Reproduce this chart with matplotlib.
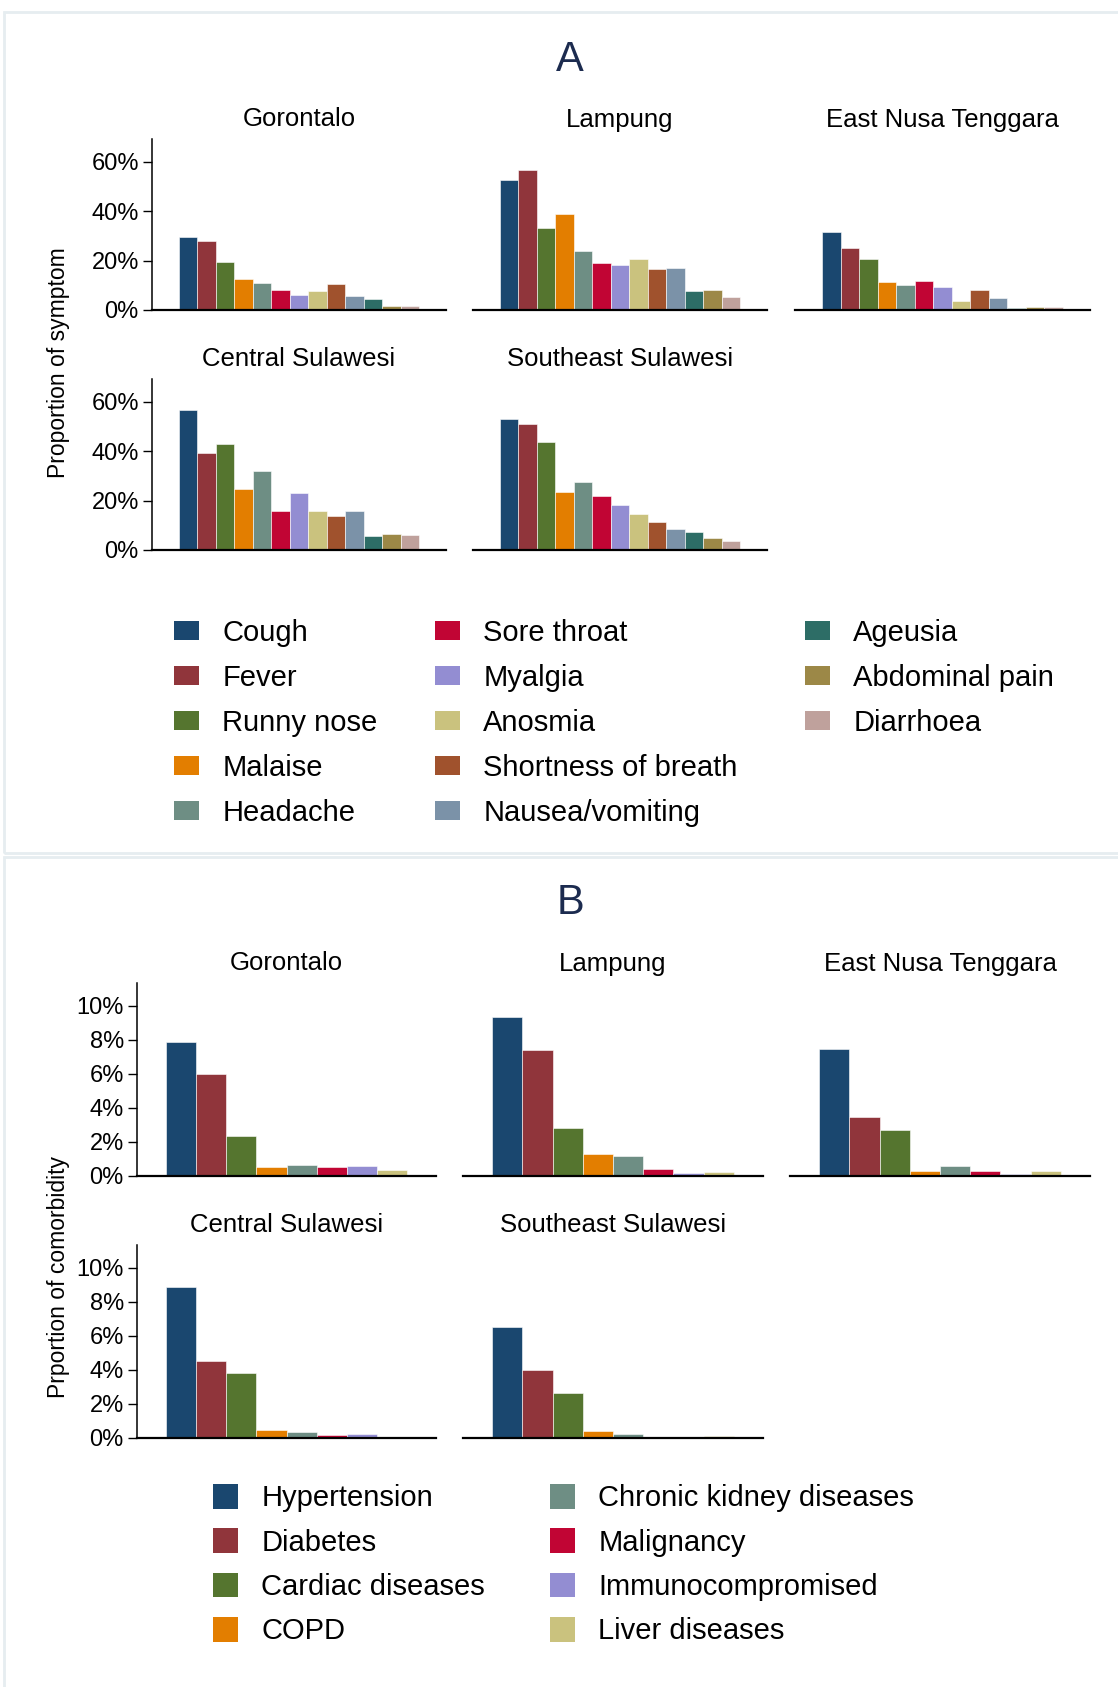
import matplotlib
matplotlib.use("Agg")
import matplotlib.pyplot as plt
from matplotlib.patches import Patch, Rectangle
from matplotlib.ticker import FuncFormatter

plt.rcParams['font.family'] = ['Liberation Sans', 'DejaVu Sans']

W, H = 1118, 1687

provinces = ["Gorontalo", "Lampung", "East Nusa Tenggara", "Central Sulawesi", "Southeast Sulawesi"]

symptoms = ["Cough", "Fever", "Runny nose", "Malaise", "Headache", "Sore throat", "Myalgia",
            "Anosmia", "Shortness of breath", "Nausea/vomiting", "Ageusia", "Abdominal pain", "Diarrhoea"]
symptom_colors = ["#1a476f", "#90353b", "#55752f", "#e37e00", "#6e8e84", "#c10534", "#938dd2",
                  "#cac27e", "#a0522d", "#7b92a8", "#2d6d66", "#9c8847", "#bfa19c"]

# % of cases with each symptom, per province
sym_gorontalo = [29.5, 27.9, 19.6, 12.6, 11.1, 8.0, 6.2, 7.6, 10.4, 5.6, 4.6, 1.8, 1.5]
sym_lampung = [52.8, 56.9, 33.1, 38.9, 23.8, 19.2, 18.2, 20.6, 16.7, 17.2, 7.6, 8.1, 5.1]
sym_ent = [31.7, 25.3, 20.7, 11.2, 10.0, 11.9, 9.5, 3.7, 8.3, 4.7, 0.8, 1.1, 1.1]
sym_central = [56.6, 39.4, 42.9, 24.9, 31.9, 15.8, 23.3, 16.0, 13.6, 15.9, 5.5, 6.3, 6.1]
sym_southeast = [53.0, 50.9, 43.9, 23.5, 27.4, 21.7, 18.1, 14.4, 11.3, 8.4, 7.4, 4.7, 3.6]

comorbidities = ["Hypertension", "Diabetes", "Cardiac diseases", "COPD",
                 "Chronic kidney diseases", "Malignancy", "Immunocompromised", "Liver diseases"]
comorb_colors = symptom_colors[:4] + ["#6e8e84", "#c10534", "#938dd2", "#cac27e"]

com_gorontalo = [7.88, 5.98, 2.33, 0.51, 0.65, 0.51, 0.57, 0.35]
com_lampung = [9.35, 7.41, 2.84, 1.29, 1.20, 0.39, 0.18, 0.24]
com_ent = [7.45, 3.49, 2.73, 0.27, 0.57, 0.27, 0.10, 0.27]
com_central = [8.90, 4.53, 3.82, 0.45, 0.35, 0.16, 0.25, 0.0]
com_southeast = [6.55, 4.00, 2.67, 0.43, 0.24, 0.0, 0.08, 0.14]

sym_data = [sym_gorontalo, sym_lampung, sym_ent, sym_central, sym_southeast]
com_data = [com_gorontalo, com_lampung, com_ent, com_central, com_southeast]

fig = plt.figure(figsize=(W / 100, H / 100), dpi=100)

# light panel frames
fig.add_artist(Rectangle((4 / W, 1 - 853 / H), 1.2, (853 - 12) / H, transform=fig.transFigure,
                         fill=False, edgecolor="#e6edf0", lw=2))
fig.add_artist(Rectangle((4 / W, -0.1), 1.2, 0.1 + 1 - 857 / H, transform=fig.transFigure,
                         fill=False, edgecolor="#e6edf0", lw=2))


def make_ax(l, r, top, bottom):
    return fig.add_axes([l / W, 1 - bottom / H, (r - l) / W, (bottom - top) / H])


def style(ax, vals, colors, title, ylim, yticks, pad):
    x = range(len(vals))
    ax.bar(x, vals, width=1.0, color=colors, edgecolor="white", linewidth=0.4)
    ax.set_xlim(-0.5 - pad, len(vals) - 0.5 + pad)
    ax.set_ylim(0, ylim)
    ax.set_yticks(yticks)
    ax.yaxis.set_major_formatter(FuncFormatter(lambda v, p: f"{v:.0f}%"))
    ax.set_xticks([])
    for s in ["top", "right"]:
        ax.spines[s].set_visible(False)
    ax.spines["left"].set_linewidth(1.1)
    ax.spines["bottom"].set_linewidth(1.6)
    ax.tick_params(axis="y", labelsize=17, length=6.5, width=1.0, pad=3)
    ax.set_title(title, fontsize=18.5, pad=9)
    ax.set_facecolor("none")


# Panel A
a_cols = [(152, 446), (473, 767), (795, 1090)]
a_rows = [(139, 310), (379, 550)]
for i, (name, vals) in enumerate(zip(provinces, sym_data)):
    l, r = a_cols[i % 3]
    t, b = a_rows[i // 3]
    ax = make_ax(l, r, t, b)
    style(ax, vals, symptom_colors, name, 69.3, [0, 20, 40, 60], 1.46)
    if i % 3 != 0:
        ax.yaxis.set_visible(False)
        ax.spines["left"].set_visible(False)

# Panel B
b_cols = [(137, 436), (463, 763), (790, 1090)]
b_rows = [(983, 1176), (1245, 1438)]
for i, (name, vals) in enumerate(zip(provinces, com_data)):
    l, r = b_cols[i % 3]
    t, b = b_rows[i // 3]
    ax = make_ax(l, r, t, b)
    style(ax, vals, comorb_colors, name, 11.35, [0, 2, 4, 6, 8, 10], 0.97)
    if i % 3 != 0:
        ax.yaxis.set_visible(False)
        ax.spines["left"].set_visible(False)

fig.text(570 / W, 1 - 60 / H, "A", fontsize=30, color="#1c2b4f", ha="center", va="center")
fig.text(570 / W, 1 - 903 / H, "B", fontsize=30, color="#1c2b4f", ha="center", va="center")
fig.text(59 / W, 1 - 363 / H, "Proportion of symptom", fontsize=16.5, rotation=90,
         ha="center", va="center")
fig.text(59 / W, 1 - 1277 / H, "Prportion of comorbidity", fontsize=16.5, rotation=90,
         ha="center", va="center")


def column_legend(names, colors, x, y, hh, ls):
    handles = [Patch(facecolor=c, edgecolor="none") for c in colors]
    fig.legend(handles, names, loc="upper left", bbox_to_anchor=(x / W, 1 - y / H),
               frameon=False, fontsize=21, borderpad=0, borderaxespad=0,
               handlelength=0.86, handleheight=hh, handletextpad=0.8, labelspacing=ls)


column_legend(symptoms[:5], symptom_colors[:5], 174, 619, 0.6, 0.58)
column_legend(symptoms[5:10], symptom_colors[5:10], 435, 619, 0.6, 0.58)
column_legend(symptoms[10:], symptom_colors[10:], 805, 619, 0.6, 0.58)
column_legend(comorbidities[:4], comorb_colors[:4], 213, 1484, 0.92, 0.55)
column_legend(comorbidities[4:], comorb_colors[4:], 550, 1484, 0.92, 0.55)

fig.savefig("out.png", dpi=100, facecolor="white")
